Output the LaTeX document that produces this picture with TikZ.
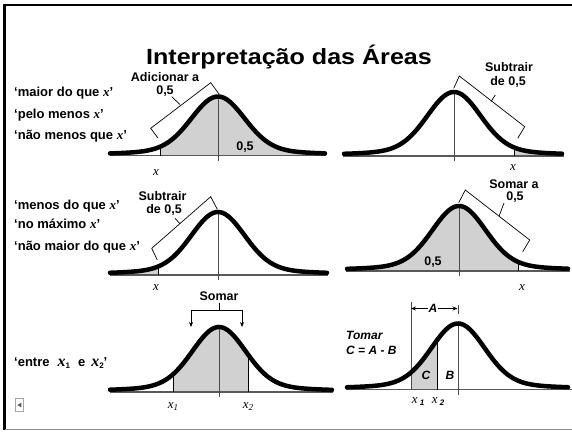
\documentclass[tikz,border=0pt]{standalone}
\usepackage{fontspec}
\usepackage{graphicx}
\setmainfont{Liberation Sans}
\newfontfamily\xserif{Liberation Serif}
\usetikzlibrary{arrows.meta}
\pgfmathdeclarefunction{bellf}{1}{\pgfmathparse{0.85*exp(-(#1)*(#1)/1352)+0.15/(1+(#1)*(#1)/3600)}}
\newcommand\xv{{\xserif\bfseries\itshape x}}
\newcommand\xit{{\xserif\itshape x}}
\newcommand\bellfill[5]{\fill[areafill] (#4,#2) -- plot[domain=#4:#5,samples=60] (\x,{#2-#3*bellf(\x-#1)}) -- (#5,#2) -- cycle;}
\newcommand\bellline[5]{\draw[curve] plot[domain=#4:#5,samples=140] (\x,{#2-#3*bellf(\x-#1)});}
\newcommand\vmark[4]{\draw[xline] (#4,#2) -- (#4,{#2-#3*bellf(#4-#1)});}
\newcommand\axes[5]{\draw[axis] (#4,#2) -- (#5,#2); \draw[cline] (#1,{#2-#3}) -- (#1,#2+5);}
\tikzset{
  curve/.style={line width=4.5pt, line cap=round, black},
  axis/.style={line width=1.1pt, black!65},
  cline/.style={line width=0.9pt, black!70},
  xline/.style={line width=0.9pt, black},
  areafill/.style={fill=black!18},
  brk/.style={line width=0.7pt, black},
  lbl/.style={font=\bfseries\fontsize{13}{15}\selectfont, anchor=base west, inner sep=0pt},
  ann/.style={font=\bfseries\fontsize{12.5}{14}\selectfont, anchor=base, inner sep=0pt},
  anni/.style={font=\bfseries\itshape\fontsize{12}{14}\selectfont, anchor=base, inner sep=0pt},
  xl/.style={font=\fontsize{13}{15}\selectfont, anchor=base, inner sep=0pt},
  arr/.style={line width=0.7pt, -{Stealth[length=5pt,width=4pt]}}
}
\begin{document}
\begin{tikzpicture}[x=1pt,y=-1pt]
\useasboundingbox (0,0) rectangle (572,431);
% frame
\draw[line width=2.7pt] (4.6,430) -- (4.6,5) -- (572,5);
\draw[line width=1pt, black!45] (4.6,429.5) -- (572,429.5);
% title
\node[font=\bfseries\fontsize{22}{24}\selectfont, anchor=base, inner sep=0pt] (title) at (289,64) {\scalebox{1.14}[1]{Interpretação das Áreas}};
% left labels
\node[lbl] (l1) at (14,96.7) {‘maior do que \xv’};
\node[lbl] (l2) at (14,118.3) {‘pelo menos \xv’};
\node[lbl] (l3) at (14,139.3) {‘não menos que \xv’};
\node[lbl] (l4) at (14,209.3) {‘menos do que \xv’};
\node[lbl] (l5) at (14,228.3) {‘no máximo \xv’};
\node[lbl] (l6) at (14,250) {‘não maior do que \xv’};
\node[lbl] (l7) at (14,366) {‘entre\hspace{8pt}{\xserif\itshape\fontsize{16}{16}\selectfont x}\raisebox{-2pt}{\fontsize{8}{8}\selectfont 1}\hspace{8pt}e\hspace{6pt}{\xserif\itshape\fontsize{16}{16}\selectfont x}\raisebox{-2pt}{\fontsize{8}{8}\selectfont 2}’};
% ---------- panel 1
\bellfill{218}{155.5}{59}{160}{325}
\axes{218}{155.5}{59}{110}{326}
\vmark{218}{155.5}{59}{160}
\bellline{218}{155.5}{59}{110}{325}
\node[ann] (p1v) at (245,150) {0,5};
\node[xl] (p1x) at (156,175) {\xit};
\node[ann] (a1) at (165,81.7) {Adicionar a};
\node[ann] (a1b) at (165,94.3) {0,5};
\draw[brk] (158,138) -- (150.7,128.3) -- (210.7,82.7) -- (219,94);
\draw[brk] (171.7,96.7) -- (180,104.5);
% ---------- panel 2
\bellfill{454}{156}{64}{514}{562}
\axes{454}{156}{64}{343}{564}
\vmark{454}{156}{64}{514}
\bellline{454}{156}{64}{344}{562}
\node[xl] (p2x) at (513,170) {\xit};
\node[ann] (a2) at (509,71) {Subtrair};
\node[ann] (a2b) at (508,85) {de 0,5};
\draw[brk] (453.7,88.3) -- (459.3,76) -- (524.7,126.7) -- (517.7,138.3);
\draw[brk] (495.3,95) -- (491,101.5);
% ---------- panel 3
\bellfill{218}{275}{63}{110}{158}
\axes{218}{275}{63}{110}{328}
\vmark{218}{275}{63}{158}
\bellline{218}{275}{63}{110}{327}
\node[xl] (p3x) at (156,290) {\xit};
\node[ann] (a3) at (162.5,200) {Subtrair};
\node[ann] (a3b) at (164,213.3) {de 0,5};
\draw[brk] (157.3,260) -- (151.7,248.3) -- (210.7,196.7) -- (217.3,209.3);
\draw[brk] (175,218.3) -- (180,223.7);
% ---------- panel 4
\bellfill{459}{271}{65}{347}{518}
\axes{459}{271}{65}{346}{570}
\vmark{459}{271}{65}{518}
\bellline{459}{271}{65}{347}{568}
\node[ann] (p4v) at (433,265) {0,5};
\node[xl] (p4x) at (522,290) {\xit};
\node[ann] (a4) at (514,188.3) {Somar a};
\node[ann] (a4b) at (515,200.7) {0,5};
\draw[brk] (458.7,202.7) -- (465.3,190) -- (529.7,240) -- (522.7,251.7);
\draw[brk] (504,203) -- (499,216.2);
% ---------- panel 5
\bellfill{219}{392}{65}{173}{248}
\axes{219}{392}{65}{110}{333}
\vmark{219}{392}{65}{173}
\vmark{219}{392}{65}{248}
\bellline{219}{392}{65}{110}{332}
\node[xl] (p5x1) at (173,408) {\xit\raisebox{-2.5pt}{\xserif\itshape\fontsize{9}{9}\selectfont 1}};
\node[xl] (p5x2) at (248,408) {\xit\raisebox{-2.5pt}{\xserif\itshape\fontsize{9}{9}\selectfont 2}};
\node[ann] (som) at (219,300) {Somar};
\coordinate (s0) at (219,302.5);
\coordinate (s1) at (219,310);
\coordinate (sl) at (191,310);
\coordinate (sr) at (242,310);
\coordinate (slb) at (191,327);
\coordinate (srb) at (242,327);
\draw[brk] (s0) -- (s1);
\draw[brk, {Stealth[length=5pt,width=4pt]}-{Stealth[length=5pt,width=4pt]}] (slb) -- (sl) -- (sr) -- (srb);
% ---------- panel 6
\bellfill{458}{389.5}{66}{411}{437}
\axes{458}{389.5}{66}{346}{572}
\draw[cline] (411,302) -- (411,389.5);
\vmark{458}{389.5}{66}{437}
\bellline{458}{389.5}{66}{347}{568}
\draw[cline] (458,305) -- (458,314);
\node[anni] (A) at (433,312.3) {A};
\coordinate (Al) at (411,308.5);
\coordinate (Ar) at (457.5,308.5);
\draw[arr] (A.west |- Al) -- (Al);
\draw[arr] (A.east |- Ar) -- (Ar);
\node[anni, anchor=base west] (tom) at (346,339.3) {Tomar};
\node[anni, anchor=base west] (cab) at (346,354) {C = A - B};
\node[anni] (C) at (426,379) {C};
\node[anni] (B) at (450,379) {B};
\node[xl] (p6x1) at (418,403) {\xit\,\raisebox{-2.5pt}{\bfseries\itshape\fontsize{8}{8}\selectfont 1}};
\node[xl] (p6x2) at (438,403) {\xit\,\raisebox{-2.5pt}{\bfseries\itshape\fontsize{8}{8}\selectfont 2}};
% icon
\draw[black!35, line width=0.6pt] (15,398.3) rectangle (23.3,411.7);
\fill[black!65] (17.4,405) -- (21.4,402.6) -- (21.4,407.4) -- cycle;
\end{tikzpicture}
\end{document}
